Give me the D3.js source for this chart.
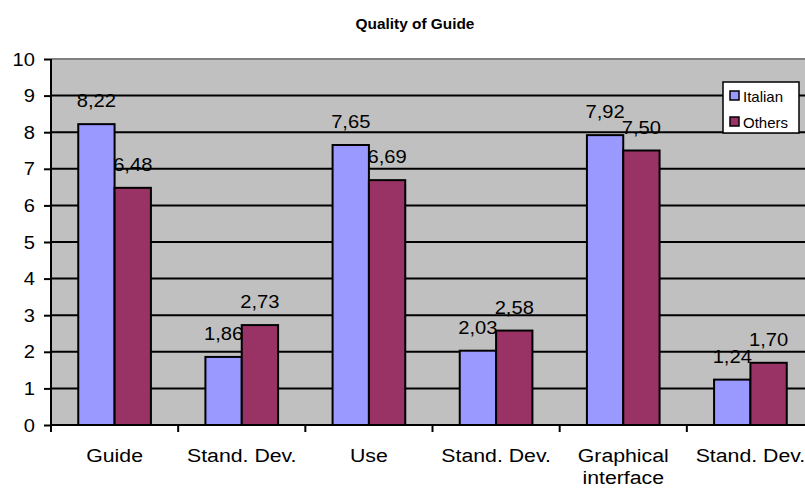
<!DOCTYPE html>
<html>
<head>
<meta charset="utf-8">
<script src="https://cdn.jsdelivr.net/npm/d3@7"></script>
<style>
  html, body { margin: 0; padding: 0; background: #ffffff; }
  svg { display: block; font-family: "Liberation Sans", Arial, sans-serif; }
</style>
</head>
<body>
<svg id="chart" width="805" height="494"></svg>
<script>
// Chart data
const categories = ["Guide", "Stand. Dev.", "Use", "Stand. Dev.", "Graphical\ninterface", "Stand. Dev."];
const seriesNames = ["Italian", "Others"];
const italian = [8.22, 1.86, 7.65, 2.03, 7.92, 1.24];
const others = [6.48, 2.73, 6.69, 2.58, 7.50, 1.70];
const yTicks = [0, 1, 2, 3, 4, 5, 6, 7, 8, 9, 10];
const colors = ["#9999FF", "#993366"];
const title = "Quality of Guide";

// Text in this chart is set slightly wide
const stretch = 1.12;

const seriesValues = [italian, others];
const rows = categories.map((c, i) => ({
  idx: i,
  cat: c,
  values: seriesNames.map((s, k) => ({ series: s, k, value: seriesValues[k][i] }))
}));

const svg = d3.select("#chart");
const plot = { left: 51, right: 814, top: 59, bottom: 425 };

const x = d3.scaleBand()
  .domain(d3.range(categories.length))
  .range([plot.left, plot.right])
  .padding(0);

const xs = d3.scaleBand()
  .domain(seriesNames)
  .range([0, x.bandwidth()])
  .paddingInner(0)
  .paddingOuter(0.75);

const y = d3.scaleLinear().domain([0, 10]).range([plot.bottom, plot.top]);

// Plot background
svg.append("rect")
  .attr("x", plot.left).attr("y", plot.top)
  .attr("width", plot.right - plot.left).attr("height", plot.bottom - plot.top)
  .attr("fill", "#C0C0C0");

// Horizontal gridlines
svg.append("g").selectAll("line")
  .data(yTicks.filter(t => t > 0 && t < 10))
  .join("line")
  .attr("x1", plot.left).attr("x2", plot.right)
  .attr("y1", d => y(d)).attr("y2", d => y(d))
  .attr("stroke", "#000").attr("stroke-width", 2);

// Top edge of plot area
svg.append("line")
  .attr("x1", plot.left).attr("x2", plot.right)
  .attr("y1", y(10)).attr("y2", y(10))
  .attr("stroke", "#808080").attr("stroke-width", 2);

// Bars
const groups = svg.append("g").selectAll("g")
  .data(rows)
  .join("g")
  .attr("transform", d => `translate(${x(d.idx)},0)`);

groups.selectAll("rect")
  .data(d => d.values)
  .join("rect")
  .attr("x", d => xs(d.series))
  .attr("y", d => y(d.value))
  .attr("width", xs.bandwidth())
  .attr("height", d => y(0) - y(d.value))
  .attr("fill", d => colors[d.k])
  .attr("stroke", "#000")
  .attr("stroke-width", 2);

// Value labels
groups.selectAll("text")
  .data(d => d.values)
  .join("text")
  .attr("transform", d => `translate(${xs(d.series) + xs.bandwidth() / 2},${y(d.value) - 17}) scale(${stretch},1)`)
  .attr("text-anchor", "middle")
  .attr("font-size", 18)
  .attr("fill", "#000")
  .text(d => d3.format(".2f")(d.value).replace(".", ","));

// Y axis
const yAxis = d3.axisLeft(y).tickValues(yTicks).tickSize(7).tickPadding(10).tickFormat(d3.format("d"));
const gy = svg.append("g").attr("transform", `translate(${plot.left},0)`).call(yAxis);
gy.select(".domain").attr("stroke", "#000").attr("stroke-width", 2).attr("d", `M0,${plot.top}V${plot.bottom + 6}`);
gy.selectAll(".tick line").attr("stroke", "#000").attr("stroke-width", 2);
gy.selectAll(".tick text")
  .attr("font-size", 19)
  .attr("font-family", "Liberation Sans, Arial, sans-serif")
  .attr("fill", "#000")
  .attr("x", null)
  .attr("transform", `translate(-16,0) scale(1.06,1)`);

// X axis line and ticks at category boundaries
svg.append("line")
  .attr("x1", plot.left).attr("x2", plot.right)
  .attr("y1", plot.bottom).attr("y2", plot.bottom)
  .attr("stroke", "#000").attr("stroke-width", 2);

svg.append("g").selectAll("line")
  .data(d3.range(categories.length + 1))
  .join("line")
  .attr("x1", d => plot.left + d * x.step()).attr("x2", d => plot.left + d * x.step())
  .attr("y1", plot.bottom).attr("y2", plot.bottom + 7)
  .attr("stroke", "#000").attr("stroke-width", 2);

// Category labels
const catLabels = svg.append("g").selectAll("text")
  .data(rows)
  .join("text")
  .attr("transform", d => `translate(${x(d.idx) + x.bandwidth() / 2},462) scale(${stretch},1)`)
  .attr("text-anchor", "middle")
  .attr("font-size", 19)
  .attr("fill", "#000");
catLabels.selectAll("tspan")
  .data(d => d.cat.split("\n"))
  .join("tspan")
  .attr("x", 0)
  .attr("dy", (d, i) => i === 0 ? 0 : 22)
  .text(d => d);

// Title
svg.append("text")
  .attr("transform", "translate(415,29) scale(1.1,1)")
  .attr("text-anchor", "middle")
  .attr("font-size", 14)
  .attr("font-weight", "bold")
  .attr("fill", "#000")
  .text(title);

// Legend
const legend = svg.append("g").attr("transform", "translate(723,82)");
legend.append("rect")
  .attr("width", 76).attr("height", 51)
  .attr("fill", "#fff").attr("stroke", "#000").attr("stroke-width", 1.5);
const items = legend.selectAll("g.item")
  .data(seriesNames)
  .join("g")
  .attr("class", "item")
  .attr("transform", (d, i) => `translate(7,${9 + i * 26})`);
items.append("rect")
  .attr("width", 9).attr("height", 9)
  .attr("fill", (d, i) => colors[i])
  .attr("stroke", "#000").attr("stroke-width", 1.5);
items.append("text")
  .attr("x", 13).attr("y", 11)
  .attr("font-size", 15)
  .attr("fill", "#000")
  .text(d => d);
</script>
</body>
</html>
